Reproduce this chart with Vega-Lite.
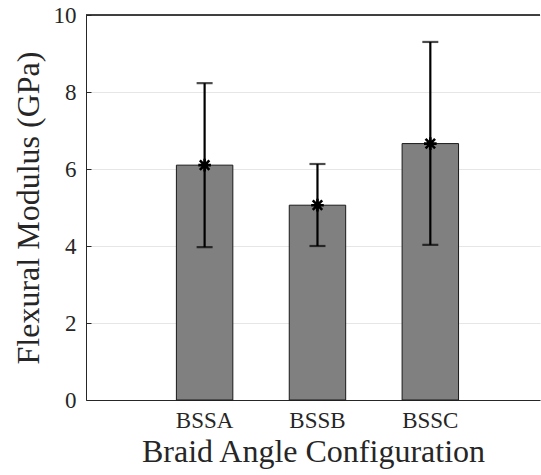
{
  "$schema": "https://vega.github.io/schema/vega-lite/v6.json",
  "width": 454,
  "height": 385,
  "padding": {"left": 12, "top": 4, "right": 0, "bottom": 5},
  "background": "white",
  "data": {"values": [
    {"config": "BSSA", "mean": 6.10, "low": 3.97, "high": 8.23},
    {"config": "BSSB", "mean": 5.06, "low": 4.00, "high": 6.13},
    {"config": "BSSC", "mean": 6.66, "low": 4.03, "high": 9.30}
  ]},
  "config": {
    "view": {"stroke": null},
    "font": "Liberation Serif",
    "axis": {
      "labelFont": "Liberation Serif",
      "titleFont": "Liberation Serif",
      "labelColor": "#262626",
      "titleColor": "#262626",
      "titleFontWeight": "normal",
      "domainColor": "#262626",
      "tickColor": "#262626",
      "labelFontSize": 23,
      "titleFontSize": 32
    }
  },
  "encoding": {
    "x": {
      "field": "config", "type": "nominal", "sort": null,
      "scale": {"paddingInner": 0.5, "paddingOuter": 0.7615, "align": 0.526},
      "axis": {"title": "Braid Angle Configuration", "labelAngle": 0, "tickSize": -5, "labelPadding": 14, "titlePadding": 4, "grid": false}
    }
  },
  "layer": [
    {
      "mark": {"type": "rule", "color": "#262626", "strokeWidth": 1.2},
      "encoding": {"y": {"datum": 10}, "x": null}
    },
    {
      "mark": {"type": "bar", "color": "#808080", "stroke": "#1a1a1a", "strokeWidth": 1},
      "encoding": {
        "y": {
          "field": "mean", "type": "quantitative",
          "scale": {"domain": [0, 10], "nice": false},
          "axis": {"title": "Flexural Modulus (GPa)", "values": [0, 2, 4, 6, 8, 10], "grid": true, "gridColor": "#e6e6e6", "gridWidth": 1.2, "tickSize": -5, "labelPadding": 15, "titlePadding": 8}
        }
      }
    },
    {
      "mark": {"type": "rule", "color": "black", "strokeWidth": 2.2},
      "encoding": {"y": {"field": "low", "type": "quantitative"}, "y2": {"field": "high"}}
    },
    {
      "mark": {"type": "tick", "color": "black", "thickness": 2.2, "size": 16, "orient": "horizontal"},
      "encoding": {"y": {"field": "low", "type": "quantitative"}}
    },
    {
      "mark": {"type": "tick", "color": "black", "thickness": 2.2, "size": 16, "orient": "horizontal"},
      "encoding": {"y": {"field": "high", "type": "quantitative"}}
    },
    {
      "mark": {"type": "point", "shape": "M-1,0L1,0M0,-1L0,1M-0.75,-0.75L0.75,0.75M-0.75,0.75L0.75,-0.75", "size": 160, "stroke": "black", "strokeWidth": 2.6, "filled": false, "opacity": 1},
      "encoding": {"y": {"field": "mean", "type": "quantitative"}}
    }
  ]
}
